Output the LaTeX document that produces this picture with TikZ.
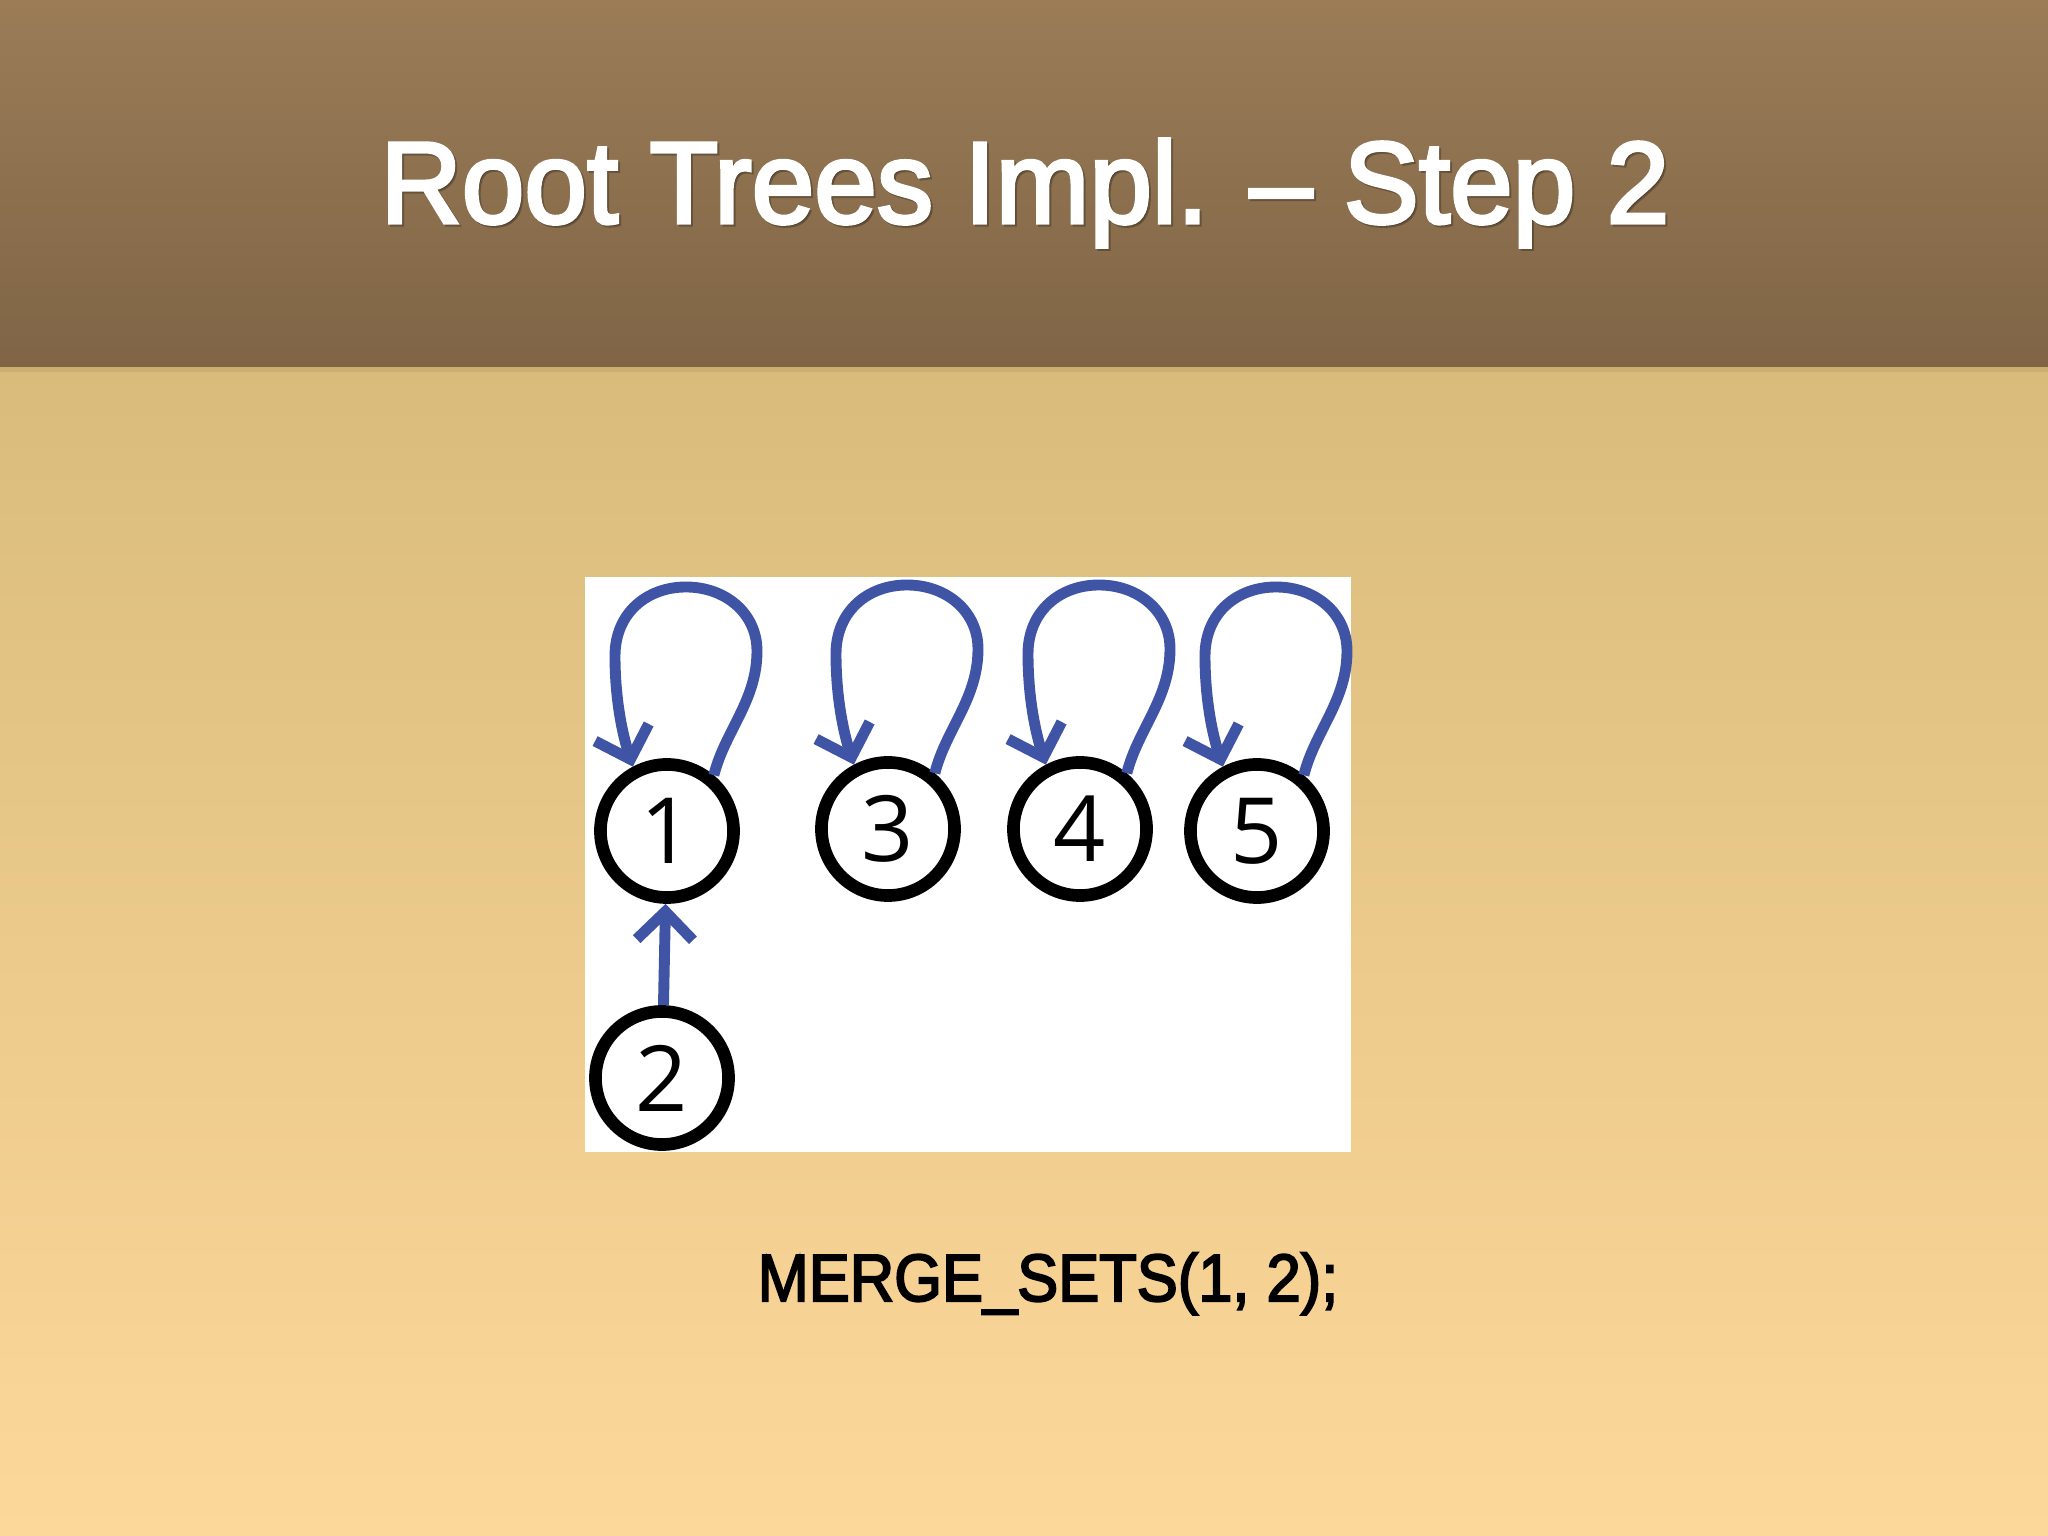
\documentclass[tikz,border=0pt]{standalone}
\usepackage{fontspec}
\setmainfont{Liberation Sans}
\newfontfamily\titlefont[FakeBold=3]{Liberation Sans}
\newfontfamily\cmdfont[FakeBold=3]{Liberation Sans}
\newfontfamily\digitfont{Open Sans}
\usetikzlibrary{arrows.meta,calc}
\definecolor{hdrtop}{RGB}{155,124,87}
\definecolor{hdrbot}{RGB}{127,101,70}
\definecolor{hdrline}{RGB}{204,174,114}
\definecolor{bodytop}{RGB}{217,188,124}
\definecolor{bodybot}{RGB}{253,216,155}
\definecolor{loopblue}{RGB}{64,84,166}
\tikzset{
  vtx/.style={circle, draw=black, line width=3.6pt, minimum size=1.33cm, inner sep=0pt,
    font=\digitfont\fontsize{26}{26}\selectfont},
  bluearrow/.style={draw=loopblue, line width=3.1pt,
    -{Straight Barb[length=8pt,width=16pt,line width=3.1pt]}},
  titletext/.style={anchor=base, font=\titlefont\fontsize{33}{33}\selectfont},
  cmdtext/.style={anchor=base, text=black, font=\cmdfont\fontsize{19}{19}\selectfont}
}
\begin{document}
\begin{tikzpicture}[x=0.01cm,y=0.01cm]
\useasboundingbox (0,0) rectangle (2048,1536);
% backgrounds
\shade[top color=bodytop, bottom color=bodybot] (0,0) rectangle (2048,1169);
\shade[top color=hdrtop, bottom color=hdrbot] (0,1169) rectangle (2048,1536);
\fill[hdrline] (0,1164) rectangle (2048,1169);
% white panel
\fill[white] (585,384) rectangle (1351,959);
% title
\node[titletext, text=black, opacity=0.25] (titleshadow) at (1027,1311) {\scalebox{0.97}[1]{Root Trees Impl. – Step 2}};
\node[titletext, text=white] (title) at (1025,1313) {\scalebox{0.97}[1]{Root Trees Impl. – Step 2}};
% vertices
\node[vtx] (n1) at (667,705) {1};
\node[vtx] (n3) at (888,707) {3};
\node[vtx] (n4) at (1080,707) {4};
\node[vtx] (n5) at (1257,705) {5};
\node[vtx] (n2) at (662,458) {2};
% self loops
\foreach \n in {n1,n3,n4,n5}{
  \draw[bluearrow] (\n.50) .. controls ($(\n)+(58,100)$) and ($(\n)+(90,130)$) .. ($(\n)+(90,180)$)
     .. controls ($(\n)+(90,218)$) and ($(\n)+(58,244)$) .. ($(\n)+(19,244)$)
     .. controls ($(\n)+(-20,244)$) and ($(\n)+(-52,218)$) .. ($(\n)+(-52,175)$)
     .. controls ($(\n)+(-52,130)$) and ($(\n)+(-44,95)$) .. (\n.118);
}
% parent pointer 2 -> 1
\draw[bluearrow] (n2) -- (n1);
% command
\node[cmdtext] (cmd) at (1048,235) {\scalebox{0.92}[1]{MERGE\_SETS(1, 2);}};
\end{tikzpicture}
\end{document}
